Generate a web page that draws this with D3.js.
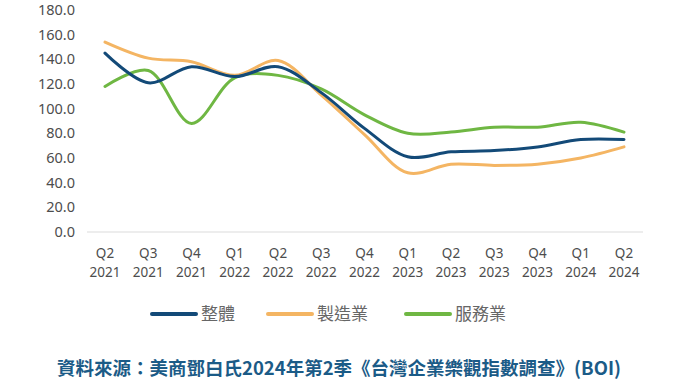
<!DOCTYPE html>
<html><head><meta charset="utf-8">
<script src="https://cdn.jsdelivr.net/npm/d3@7"></script>
<style>
html,body{margin:0;padding:0;background:#fff;}
svg{display:block;}
</style></head>
<body>
<svg id="chart" width="680" height="382"></svg>
<script>
const quarters = ["Q2","Q3","Q4","Q1","Q2","Q3","Q4","Q1","Q2","Q3","Q4","Q1","Q2"];
const years = ["2021","2021","2021","2022","2022","2022","2022","2023","2023","2023","2023","2024","2024"];
const overall = [145,121,134,126,134,113,84,61,65,66,69,75,75];
const manufacturing = [154,141,138,127,139,111,79,48,55,54,55,60,69];
const services = [118,131,88,125,127,116,95,80,81,85,85,89,81];
const yTicks = [0,20,40,60,80,100,120,140,160,180];
const seriesNames = ["整體","製造業","服務業"];
const seriesColors = ["#134a78","#f4b563","#6fb743"];
const sourceText = "資料來源：美商鄧白氏2024年第2季《台灣企業樂觀指數調查》(BOI)";

const svg = d3.select("#chart");
const font = "'Noto Sans','Open Sans',sans-serif";
const idx = d3.range(quarters.length);
const x = d3.scalePoint().domain(idx).range([105, 624]);
const y = d3.scaleLinear().domain([0,180]).range([232, 10]);

// baseline
svg.append("line").attr("x1",87).attr("x2",643).attr("y1",y(0)).attr("y2",y(0))
  .attr("stroke","#dcdcdc").attr("stroke-width",1.2);

// y axis
const yAxis = d3.axisLeft(y).tickValues(yTicks).tickFormat(d3.format(".1f")).tickSize(0).tickPadding(0);
const gy = svg.append("g").attr("transform","translate(75,0)").call(yAxis);
gy.select(".domain").remove();
gy.selectAll("text").attr("font-family",font).attr("font-size",14.5).attr("fill","#4d4d4d");

// x axis labels
const gx = svg.append("g");
gx.selectAll("text.q").data(idx).join("text").attr("class","q")
  .attr("x",d=>x(d)).attr("y",258).attr("text-anchor","middle")
  .attr("font-family",font).attr("font-size",13.5).attr("fill","#4d4d4d").text(d=>quarters[d]);
gx.selectAll("text.yr").data(idx).join("text").attr("class","yr")
  .attr("x",d=>x(d)).attr("y",277).attr("text-anchor","middle")
  .attr("font-family",font).attr("font-size",13.5).attr("fill","#4d4d4d").text(d=>years[d]);

// lines
const allSeries = [overall, manufacturing, services];
const line = d3.line().x((d,i)=>x(i)).y(d=>y(d)).curve(d3.curveCatmullRom.alpha(0.5));
[2,1,0].forEach(k=>{
  svg.append("path").datum(allSeries[k]).attr("d",line)
    .attr("fill","none").attr("stroke",seriesColors[k]).attr("stroke-width",3)
    .attr("stroke-linecap","round");
});

// legend
const legX = [152, 268, 406];
const leg = svg.append("g");
seriesNames.forEach((n,k)=>{
  leg.append("line").attr("x1",legX[k]).attr("x2",legX[k]+44).attr("y1",314).attr("y2",314)
    .attr("stroke",seriesColors[k]).attr("stroke-width",4).attr("stroke-linecap","round");
  leg.append("text").attr("x",legX[k]+49).attr("y",320).attr("font-family","'Noto Sans CJK TC',sans-serif")
    .attr("font-size",17).attr("fill","#666").text(n);
});

// source
svg.append("text").attr("x",57).attr("y",375).attr("font-family","'Noto Sans CJK TC',sans-serif")
  .attr("font-size",18.5).attr("font-weight","bold").attr("fill","#1b5b87").text(sourceText);
</script>
</body></html>
